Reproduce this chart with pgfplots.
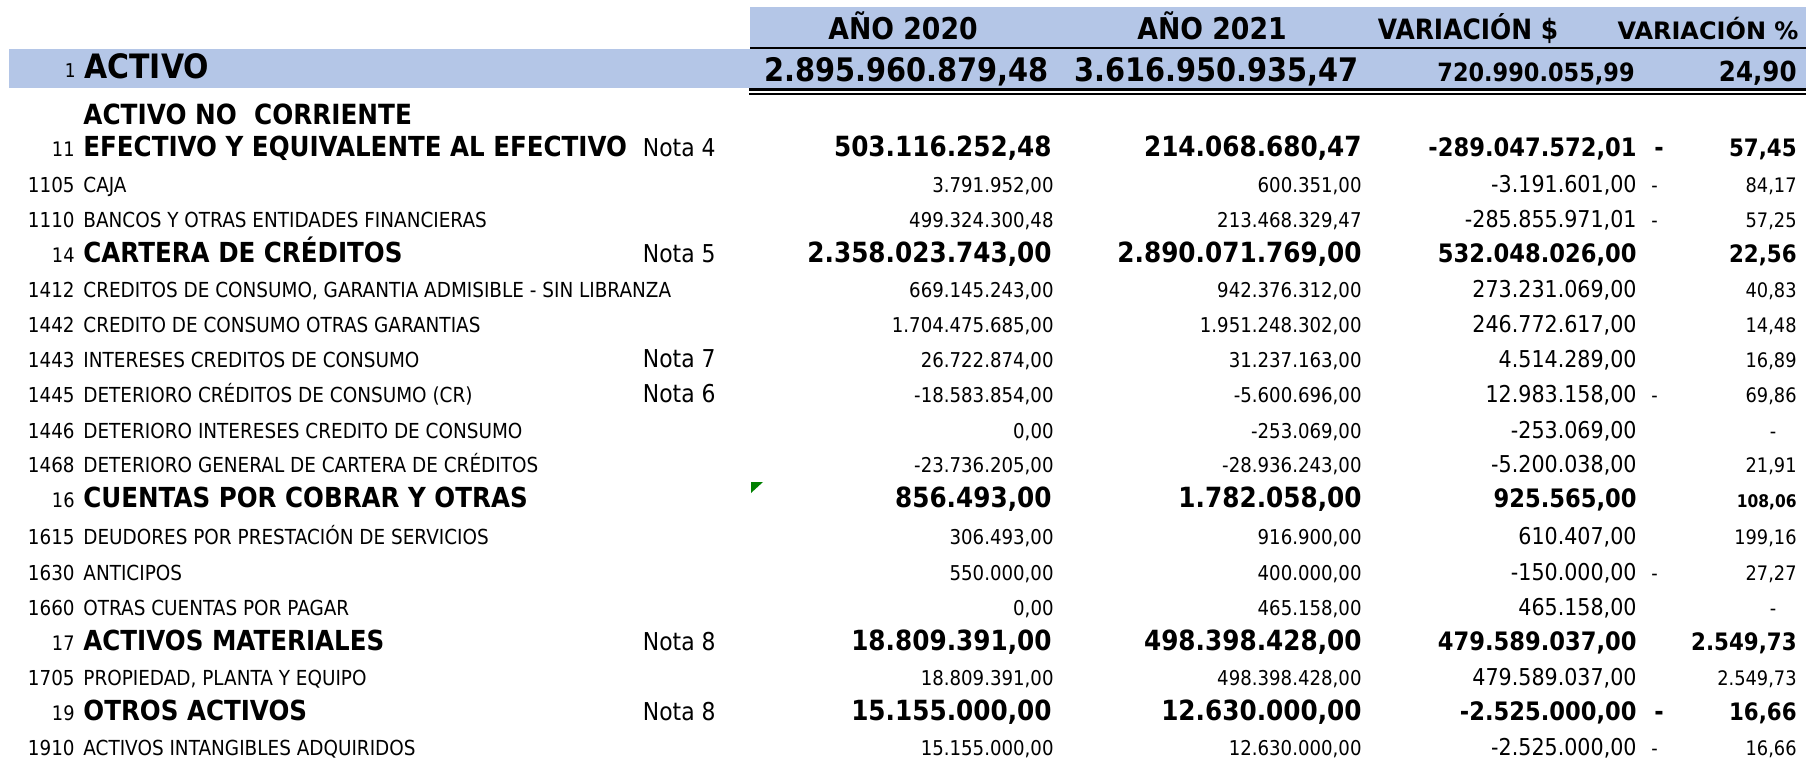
\documentclass[border=0pt]{standalone}
\usepackage{pgfplots}
\pgfplotsset{compat=1.18}
\usepackage{fontspec}
\setmainfont{DejaVu Sans}[FakeStretch=0.89]
\newfontfamily\widefont{DejaVu Sans}[FakeStretch=1.0]
\definecolor{hdr}{HTML}{B4C6E7}
\definecolor{exgreen}{HTML}{008000}
\newcommand{\fs}[1]{\fontsize{#1}{#1}\selectfont}
\tikzset{L/.style={anchor=base west,inner sep=0pt},
         R/.style={anchor=base east,inner sep=0pt},
         C/.style={anchor=base,inner sep=0pt}}
% section row: y, code, label, v1, v2, v3, v4
\newcommand{\SecRow}[7]{%
  \node[R,font=\fs{10}] at (axis cs:75,#1) {#2};
  \node[L,font=\fs{13.8}\bfseries] at (axis cs:83,#1) {#3};
  \node[R,font=\fs{13.9}\bfseries] at (axis cs:1052,#1) {#4};
  \node[R,font=\fs{13.9}\bfseries] at (axis cs:1362,#1) {#5};
  \node[R,font=\fs{12.7}\bfseries] at (axis cs:1637,#1) {#6};
  \node[R,font=\fs{12}\bfseries] at (axis cs:1797,#1) {#7};
}
% detail row: y, code, label, v1, v2, v3, v4
\newcommand{\DetRow}[7]{%
  \node[R,font=\fs{10.3}] at (axis cs:75,#1) {#2};
  \node[L,font=\fs{10.35}] at (axis cs:83,#1) {#3};
  \node[R,font=\fs{10.2}] at (axis cs:1054,#1) {#4};
  \node[R,font=\fs{10.2}] at (axis cs:1362,#1) {#5};
  \node[R,font=\fs{11.6}] at (axis cs:1637,#1) {#6};
  \node[R,font=\fs{10}] at (axis cs:1797,#1) {#7};
}
\newcommand{\Nota}[2]{\node[R,font=\fs{12.3}] at (axis cs:716,#1) {Nota #2};}
\newcommand{\DashR}[1]{\node[L,font=\fs{10}] at (axis cs:1651,#1) {-};}
\newcommand{\DashB}[1]{\node[L,font=\fs{12.7}\bfseries] at (axis cs:1654,#1) {-};}
\newcommand{\ZeroP}[1]{\node[C,font=\fs{10}] at (axis cs:1773,#1) {-};}

\begin{document}
\begin{tikzpicture}
\useasboundingbox (0,0) rectangle (903pt,379.5pt);
\begin{axis}[at={(0,0)},anchor=south west,
  width=903pt,height=379.5pt,scale only axis,
  xmin=0,xmax=1806,ymin=0,ymax=759,y dir=reverse,
  hide axis,clip=false]
\addplot[draw=none] coordinates {(0,0) (1806,759)};
% bands and rules
\fill[hdr] (axis cs:750,7) rectangle (axis cs:1806,48);
\fill[hdr] (axis cs:9,49.5) rectangle (axis cs:1806,88);
\draw[line width=1pt] (axis cs:750,48.5) -- (axis cs:1806,48.5);
\draw[line width=1.5pt] (axis cs:749,89.5) -- (axis cs:1806,89.5);
\draw[line width=1pt] (axis cs:749,94) -- (axis cs:1806,94);
\fill[exgreen] (axis cs:751,482) -- (axis cs:763,482) -- (axis cs:751,493) -- cycle;
% header
\node[C,font=\fs{15}\bfseries] at (axis cs:903,40) {AÑO 2020};
\node[C,font=\fs{15}\bfseries] at (axis cs:1212,40) {AÑO 2021};
\node[C,font=\fs{14}\bfseries] at (axis cs:1468,40) {VARIACIÓN \$};
\node[C,font=\widefont\fs{12}\bfseries] at (axis cs:1708,40) {VARIACIÓN \%};
% total row
\node[R,font=\fs{9.5}] at (axis cs:76,78) {1};
\node[L,font=\fs{16.8}\bfseries] at (axis cs:84,79) {ACTIVO};
\node[R,font=\fs{16.2}\bfseries] at (axis cs:1049,82) {2.895.960.879,48};
\node[R,font=\fs{16.2}\bfseries] at (axis cs:1359,82) {3.616.950.935,47};
\node[R,font=\fs{12.6}\bfseries] at (axis cs:1635,82) {720.990.055,99};
\node[R,font=\fs{13.8}\bfseries] at (axis cs:1797,82) {24,90};
\node[L,font=\fs{13.9}\bfseries] at (axis cs:83,125) {ACTIVO NO\ \ CORRIENTE};
% rows
\SecRow{157}{11}{EFECTIVO Y EQUIVALENTE AL EFECTIVO}{503.116.252,48}{214.068.680,47}{-289.047.572,01}{57,45}
\Nota{157}{4}\DashB{157}
\DetRow{193}{1105}{CAJA}{3.791.952,00}{600.351,00}{-3.191.601,00}{84,17}
\DashR{193}
\DetRow{228}{1110}{BANCOS Y OTRAS ENTIDADES FINANCIERAS}{499.324.300,48}{213.468.329,47}{-285.855.971,01}{57,25}
\DashR{228}
\SecRow{263}{14}{CARTERA DE CRÉDITOS}{2.358.023.743,00}{2.890.071.769,00}{532.048.026,00}{22,56}
\Nota{263}{5}
\DetRow{298}{1412}{CREDITOS DE CONSUMO, GARANTIA ADMISIBLE - SIN LIBRANZA}{669.145.243,00}{942.376.312,00}{273.231.069,00}{40,83}
\DetRow{333}{1442}{CREDITO DE CONSUMO OTRAS GARANTIAS}{1.704.475.685,00}{1.951.248.302,00}{246.772.617,00}{14,48}
\DetRow{368}{1443}{INTERESES CREDITOS DE CONSUMO}{26.722.874,00}{31.237.163,00}{4.514.289,00}{16,89}
\Nota{368}{7}
\DetRow{403}{1445}{DETERIORO CRÉDITOS DE CONSUMO (CR)}{-18.583.854,00}{-5.600.696,00}{12.983.158,00}{69,86}
\Nota{403}{6}\DashR{403}
\DetRow{438}{1446}{DETERIORO INTERESES CREDITO DE CONSUMO}{0,00}{-253.069,00}{-253.069,00}{}
\ZeroP{438}
\DetRow{473}{1468}{DETERIORO GENERAL DE CARTERA DE CRÉDITOS}{-23.736.205,00}{-28.936.243,00}{-5.200.038,00}{21,91}
\SecRow{508}{16}{CUENTAS POR COBRAR Y OTRAS}{856.493,00}{1.782.058,00}{925.565,00}{}
\node[R,font=\fs{8.7}\bfseries] at (axis cs:1797,508) {108,06};
\DetRow{545}{1615}{DEUDORES POR PRESTACIÓN DE SERVICIOS}{306.493,00}{916.900,00}{610.407,00}{199,16}
\DetRow{580}{1630}{ANTICIPOS}{550.000,00}{400.000,00}{-150.000,00}{27,27}
\DashR{580}
\DetRow{615}{1660}{OTRAS CUENTAS POR PAGAR}{0,00}{465.158,00}{465.158,00}{}
\ZeroP{615}
\SecRow{650}{17}{ACTIVOS MATERIALES}{18.809.391,00}{498.398.428,00}{479.589.037,00}{2.549,73}
\Nota{650}{8}
\DetRow{685}{1705}{PROPIEDAD, PLANTA Y EQUIPO}{18.809.391,00}{498.398.428,00}{479.589.037,00}{2.549,73}
\SecRow{720}{19}{OTROS ACTIVOS}{15.155.000,00}{12.630.000,00}{-2.525.000,00}{16,66}
\Nota{720}{8}\DashB{720}
\DetRow{755}{1910}{ACTIVOS INTANGIBLES ADQUIRIDOS}{15.155.000,00}{12.630.000,00}{-2.525.000,00}{16,66}
\DashR{755}
\end{axis}
\end{tikzpicture}
\end{document}
